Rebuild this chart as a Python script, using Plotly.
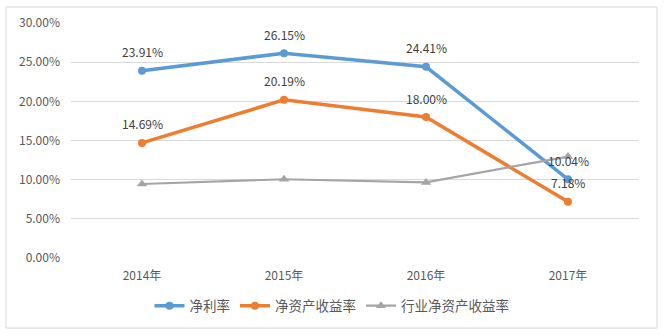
import plotly.graph_objects as go

years = ["2014年", "2015年", "2016年", "2017年"]
net_margin = [23.91, 26.15, 24.41, 10.04]
roe = [14.69, 20.19, 18.00, 7.18]
industry_roe = [9.45, 10.05, 9.65, 12.95]
y_ticks = [0, 5, 10, 15, 20, 25, 30]

FONT = "Noto Sans CJK SC, Microsoft YaHei, sans-serif"

fig = go.Figure()
fig.add_trace(go.Scatter(
    x=years, y=net_margin, name="净利率", mode="lines+markers",
    line=dict(color="#5B9BD5", width=3.5), marker=dict(size=8, symbol="circle"),
))
fig.add_trace(go.Scatter(
    x=years, y=roe, name="净资产收益率", mode="lines+markers",
    line=dict(color="#ED7D31", width=3.5), marker=dict(size=8, symbol="circle"),
))
fig.add_trace(go.Scatter(
    x=years, y=industry_roe, name="行业净资产收益率", mode="lines+markers",
    line=dict(color="#A5A5A5", width=2.2), marker=dict(size=9, symbol="triangle-up"),
))

annotations = []
for series in (net_margin, roe):
    for x, v in zip(years, series):
        annotations.append(dict(
            x=x, y=v, xref="x", yref="y", text=f"{v:.2f}%", showarrow=False,
            yshift=19, font=dict(size=12, color="#404040", family=FONT),
        ))

fig.update_layout(
    width=664, height=336,
    margin=dict(l=71, r=25, t=23, b=78),
    paper_bgcolor="white", plot_bgcolor="white",
    font=dict(family=FONT, size=12, color="#595959"),
    xaxis=dict(range=[-0.5, 3.5], showgrid=False, zeroline=False, showline=False,
               ticks="", tickfont=dict(size=12, color="#595959"), ticklabelstandoff=9),
    yaxis=dict(range=[0, 30], tickvals=y_ticks,
               ticktext=[f"{v:.2f}%" for v in y_ticks],
               showgrid=True, gridcolor="#D9D9D9", gridwidth=1,
               zeroline=False, showline=False, ticks="",
               tickfont=dict(size=12, color="#595959"), ticklabelstandoff=10),
    legend=dict(orientation="h", x=0.4595, xanchor="center", y=-0.204, yanchor="middle",
                font=dict(size=13.5, color="#595959"), itemwidth=30, tracegroupgap=0),
    showlegend=True,
    annotations=annotations,
    shapes=[dict(type="rect", xref="paper", yref="paper",
                 x0=-0.1144, x1=1.0317, y0=-0.298, y1=1.068,
                 line=dict(color="#D9D9D9", width=1), layer="below")],
)

fig.write_html("out.html")
